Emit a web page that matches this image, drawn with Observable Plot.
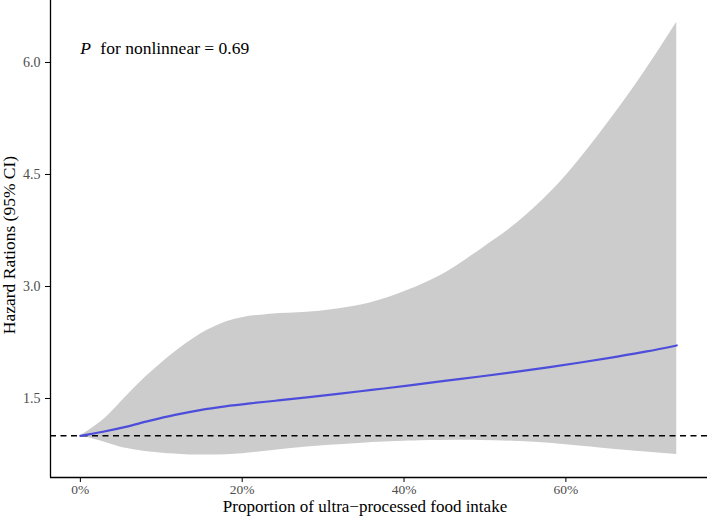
<!DOCTYPE html>
<html>
<head>
<meta charset="utf-8">
<script src="https://cdn.jsdelivr.net/npm/d3@7"></script>
<script src="https://cdn.jsdelivr.net/npm/@observablehq/plot@0.6"></script>
<style>
  html, body { margin: 0; padding: 0; background: #fff; }
  #chart { width: 708px; height: 521px; }
</style>
</head>
<body>
<div id="chart"></div>
<script>
// Estimate curve: proportion of ultra-processed food intake (fraction) vs hazard ratio
const lineX = [0, 0.028, 0.056, 0.085, 0.117, 0.148, 0.179, 0.21, 0.241, 0.28, 0.321, 0.36, 0.407, 0.45, 0.494, 0.54, 0.58, 0.62, 0.66, 0.70, 0.737];
const lineHR = [1.0, 1.055, 1.12, 1.20, 1.28, 1.345, 1.395, 1.435, 1.47, 1.515, 1.565, 1.615, 1.675, 1.735, 1.795, 1.86, 1.92, 1.985, 2.055, 2.13, 2.21];

// Upper 95% CI
const upperX = [0, 0.031, 0.056, 0.08, 0.105, 0.13, 0.158, 0.191, 0.232, 0.296, 0.358, 0.407, 0.444, 0.494, 0.543, 0.593, 0.642, 0.691, 0.737];
const upperHR = [1.0, 1.24, 1.52, 1.78, 2.02, 2.23, 2.42, 2.56, 2.625, 2.67, 2.78, 2.96, 3.14, 3.49, 3.88, 4.40, 5.05, 5.78, 6.54];

// Lower 95% CI
const lowerX = [0, 0.025, 0.049, 0.08, 0.111, 0.14, 0.17, 0.20, 0.235, 0.28, 0.32, 0.36, 0.42, 0.48, 0.54, 0.58, 0.62, 0.68, 0.737];
const lowerHR = [1.0, 0.93, 0.85, 0.79, 0.76, 0.745, 0.745, 0.76, 0.80, 0.85, 0.88, 0.91, 0.935, 0.94, 0.925, 0.90, 0.86, 0.80, 0.75];

const xTicks = [0, 0.2, 0.4, 0.6];
const yTicks = [1.5, 3.0, 4.5, 6.0];
const refHR = [1];
const xDomain = [-0.0369, 0.775];
const yDomain = [0.442, 6.83];
const xTitle = "Proportion of ultra\u2212processed food intake";
const yTitle = "Hazard Rations (95% CI)";
const annotation = {p: "P", rest: "for nonlinnear = 0.69", x: 0, y: 6.19};

const lineData = lineX.map((x, i) => ({x, hr: lineHR[i]}));

// areaY needs both band edges at shared x positions: evaluate each read edge with a
// monotone cubic (Fritsch–Carlson) interpolant at the union of the read x positions.
function monotoneSampler(xs, ys) {
  const n = xs.length, d = [], m = new Array(n);
  for (let i = 0; i < n - 1; i++) d.push((ys[i + 1] - ys[i]) / (xs[i + 1] - xs[i]));
  m[0] = d[0]; m[n - 1] = d[n - 2];
  for (let i = 1; i < n - 1; i++) m[i] = d[i - 1] * d[i] <= 0 ? 0 : (d[i - 1] + d[i]) / 2;
  for (let i = 0; i < n - 1; i++) {
    if (d[i] === 0) { m[i] = m[i + 1] = 0; continue; }
    const a = m[i] / d[i], b = m[i + 1] / d[i], s = a * a + b * b;
    if (s > 9) { const t = 3 / Math.sqrt(s); m[i] = t * a * d[i]; m[i + 1] = t * b * d[i]; }
  }
  return (x) => {
    const i = Math.max(0, Math.min(n - 2, d3.bisectRight(xs, x) - 1));
    const h = xs[i + 1] - xs[i], t = (x - xs[i]) / h, t2 = t * t, t3 = t2 * t;
    return (2*t3 - 3*t2 + 1) * ys[i] + (t3 - 2*t2 + t) * h * m[i] + (-2*t3 + 3*t2) * ys[i + 1] + (t3 - t2) * h * m[i + 1];
  };
}
const upperF = monotoneSampler(upperX, upperHR);
const lowerF = monotoneSampler(lowerX, lowerHR);
const bandX = Array.from(new Set([...upperX, ...lowerX])).sort((a, b) => a - b);
const bandData = bandX.map((x) => ({x, lo: lowerF(x), hi: upperF(x)}));

const font = "'Liberation Serif', 'Times New Roman', serif";

const chart = Plot.plot({
  width: 708,
  height: 521,
  marginLeft: 50,
  marginRight: 1,
  marginTop: 0,
  marginBottom: 44,
  style: {fontFamily: font, fontSize: "14px", background: "#fff", color: "#000"},
  x: {domain: xDomain},
  y: {domain: yDomain},
  marks: [
    Plot.areaY(bandData, {x: "x", y1: "lo", y2: "hi", fill: "#cccccc", curve: "monotone-x"}),
    Plot.ruleY(refHR, {stroke: "#000", strokeWidth: 1.5, strokeDasharray: "6,4.5"}),
    Plot.line(lineData, {x: "x", y: "hr", stroke: "#4d4ddb", strokeWidth: 2.2, curve: "monotone-x"}),
    Plot.ruleX([xDomain[0]], {stroke: "#000", strokeWidth: 1.3}),
    Plot.ruleY([yDomain[0]], {stroke: "#000", strokeWidth: 1.3}),
    Plot.axisX({ticks: xTicks, tickFormat: d3.format(".0%"), tickSize: 5, tickPadding: 2,
      color: "#4d4d4d", stroke: "#000", fontSize: 13.5, fontFamily: font, label: null}),
    Plot.axisY({ticks: yTicks, tickFormat: d3.format(".1f"), tickSize: 5, tickPadding: 5,
      color: "#4d4d4d", stroke: "#000", fontSize: 14, fontFamily: font, label: null}),
    Plot.text([xTitle], {frameAnchor: "bottom", dy: 34, dx: -14, fontSize: 17, fontFamily: font, fill: "#000"}),
    Plot.text([yTitle], {frameAnchor: "left", textAnchor: "middle", dx: -41, dy: 6, rotate: -90, fontSize: 17.5, fontFamily: font, fill: "#000"}),
    Plot.text([annotation], {x: "x", y: "y", text: "p", textAnchor: "start", fontSize: 17.5, fontStyle: "italic", fontFamily: font, fill: "#000"}),
    Plot.text([annotation], {x: "x", y: "y", text: "rest", textAnchor: "start", dx: 20, fontSize: 17.5, fontFamily: font, fill: "#000"})
  ]
});

document.getElementById("chart").appendChild(chart);
</script>
</body>
</html>
